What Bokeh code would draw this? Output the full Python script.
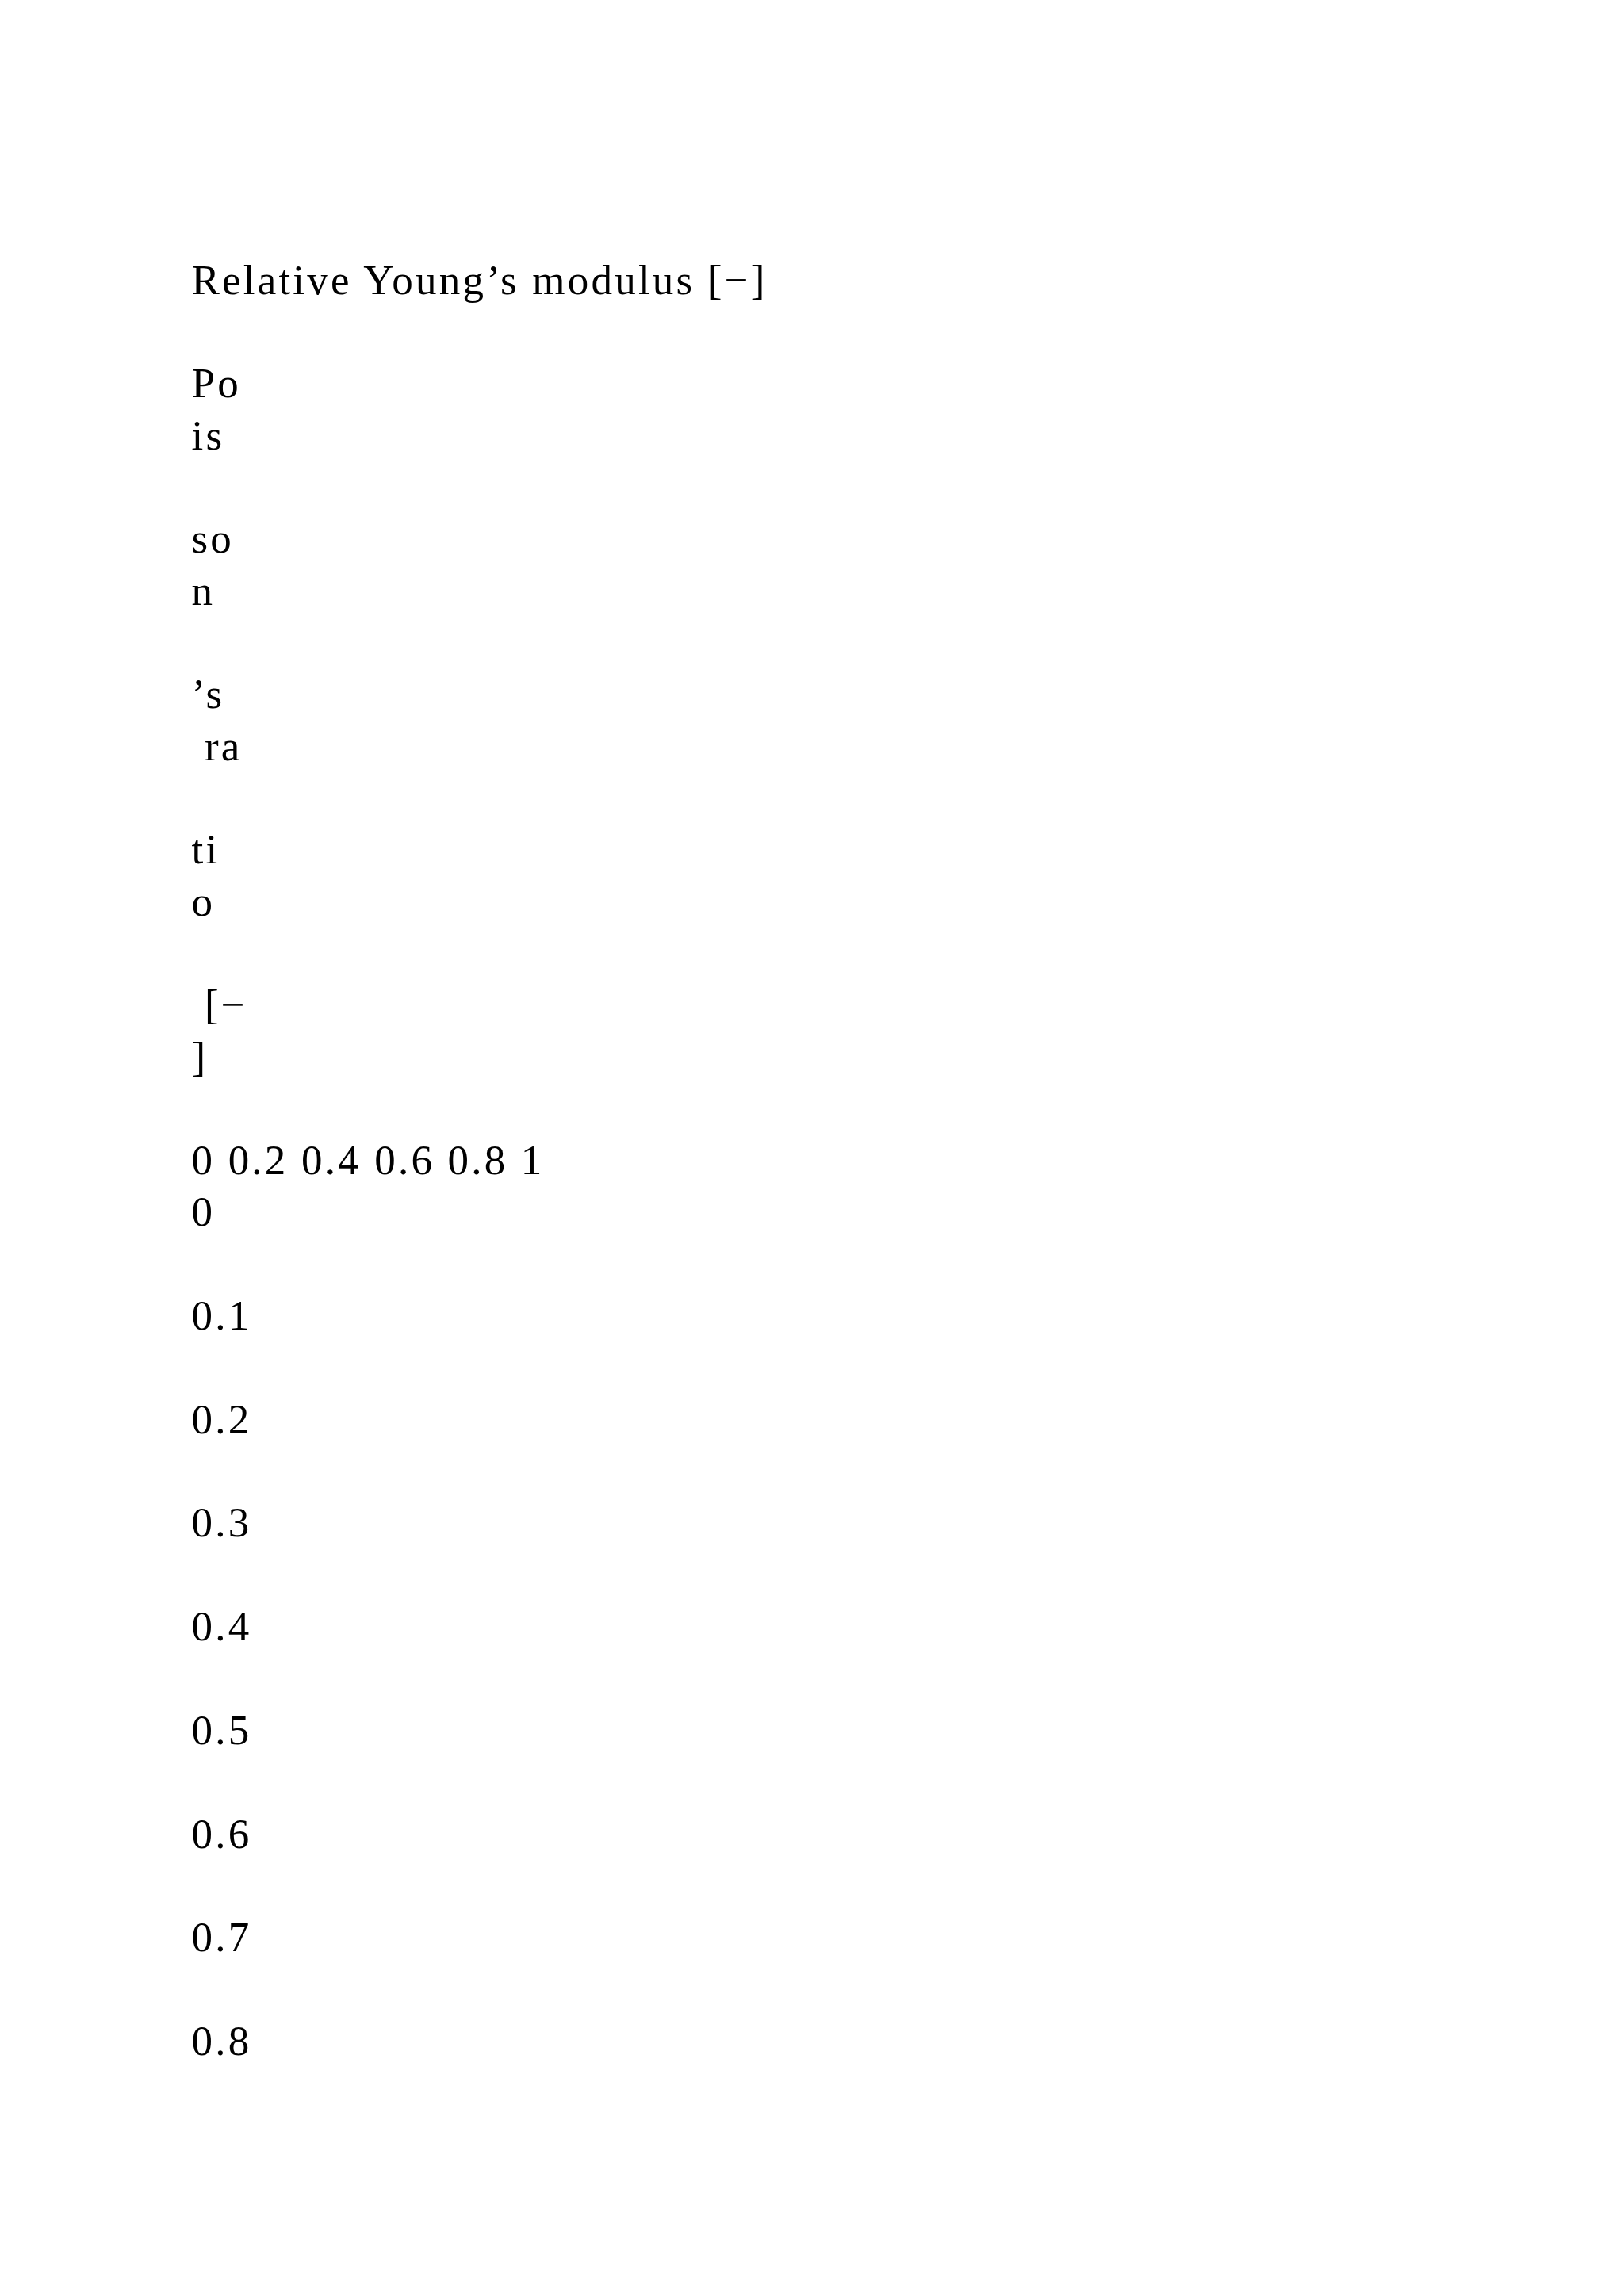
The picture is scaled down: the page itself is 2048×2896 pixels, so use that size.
from bokeh.plotting import figure
from bokeh.models import ColumnDataSource, Range1d
from bokeh.core.properties import value
from bokeh.embed import file_html
from bokeh.resources import INLINE

# text pulled out of the chart, in reading order
x_label = "Relative Young\u2019s modulus [\u2212]"
y_label_parts = [("Po", "is"), ("so", "n"), ("\u2019s", " ra"), ("ti", "o"), (" [\u2212", "]")]
x_ticks = ["0", "0.2", "0.4", "0.6", "0.8", "1"]
y_ticks = ["0", "0.1", "0.2", "0.3", "0.4", "0.5", "0.6", "0.7", "0.8"]

# build the page as a list of lines (None = empty line)
lines = [x_label, None]
for a, b in y_label_parts:
    lines += [a, b, None]
lines += [" ".join(x_ticks), y_ticks[0]]
for t in y_ticks[1:]:
    lines += [None, t]

W, H = 2032, 2880
left = 241
top = 352
pitch = 65.35
font_px = 53
tracking = 3.2
space_w = 0.25 * font_px + tracking  # svg drops leading blanks, so indent by hand

rows = [(i, s) for i, s in enumerate(lines) if s is not None]
src = ColumnDataSource(dict(
    x=[left + (len(s) - len(s.lstrip(" "))) * space_w for _, s in rows],
    y=[top + i * pitch for i, _ in rows],
    text=[s.lstrip(" ") for _, s in rows],
))

p = figure(width=W, height=H, output_backend="svg", toolbar_location=None,
           x_range=Range1d(0, W), y_range=Range1d(H, 0), min_border=0)
p.axis.visible = False
p.grid.visible = False
p.outline_line_color = None
p.background_fill_color = "white"
p.border_fill_color = "white"
# the source text is set with a little extra tracking
p.styles = {"letter-spacing": f"{tracking}px"}

p.text(x="x", y="y", text="text", source=src, text_font=value("Liberation Serif"),
       text_font_size=f"{font_px}px", text_color="black", text_align="left",
       text_baseline="alphabetic")

open("out.html", "w").write(file_html(p, INLINE))
